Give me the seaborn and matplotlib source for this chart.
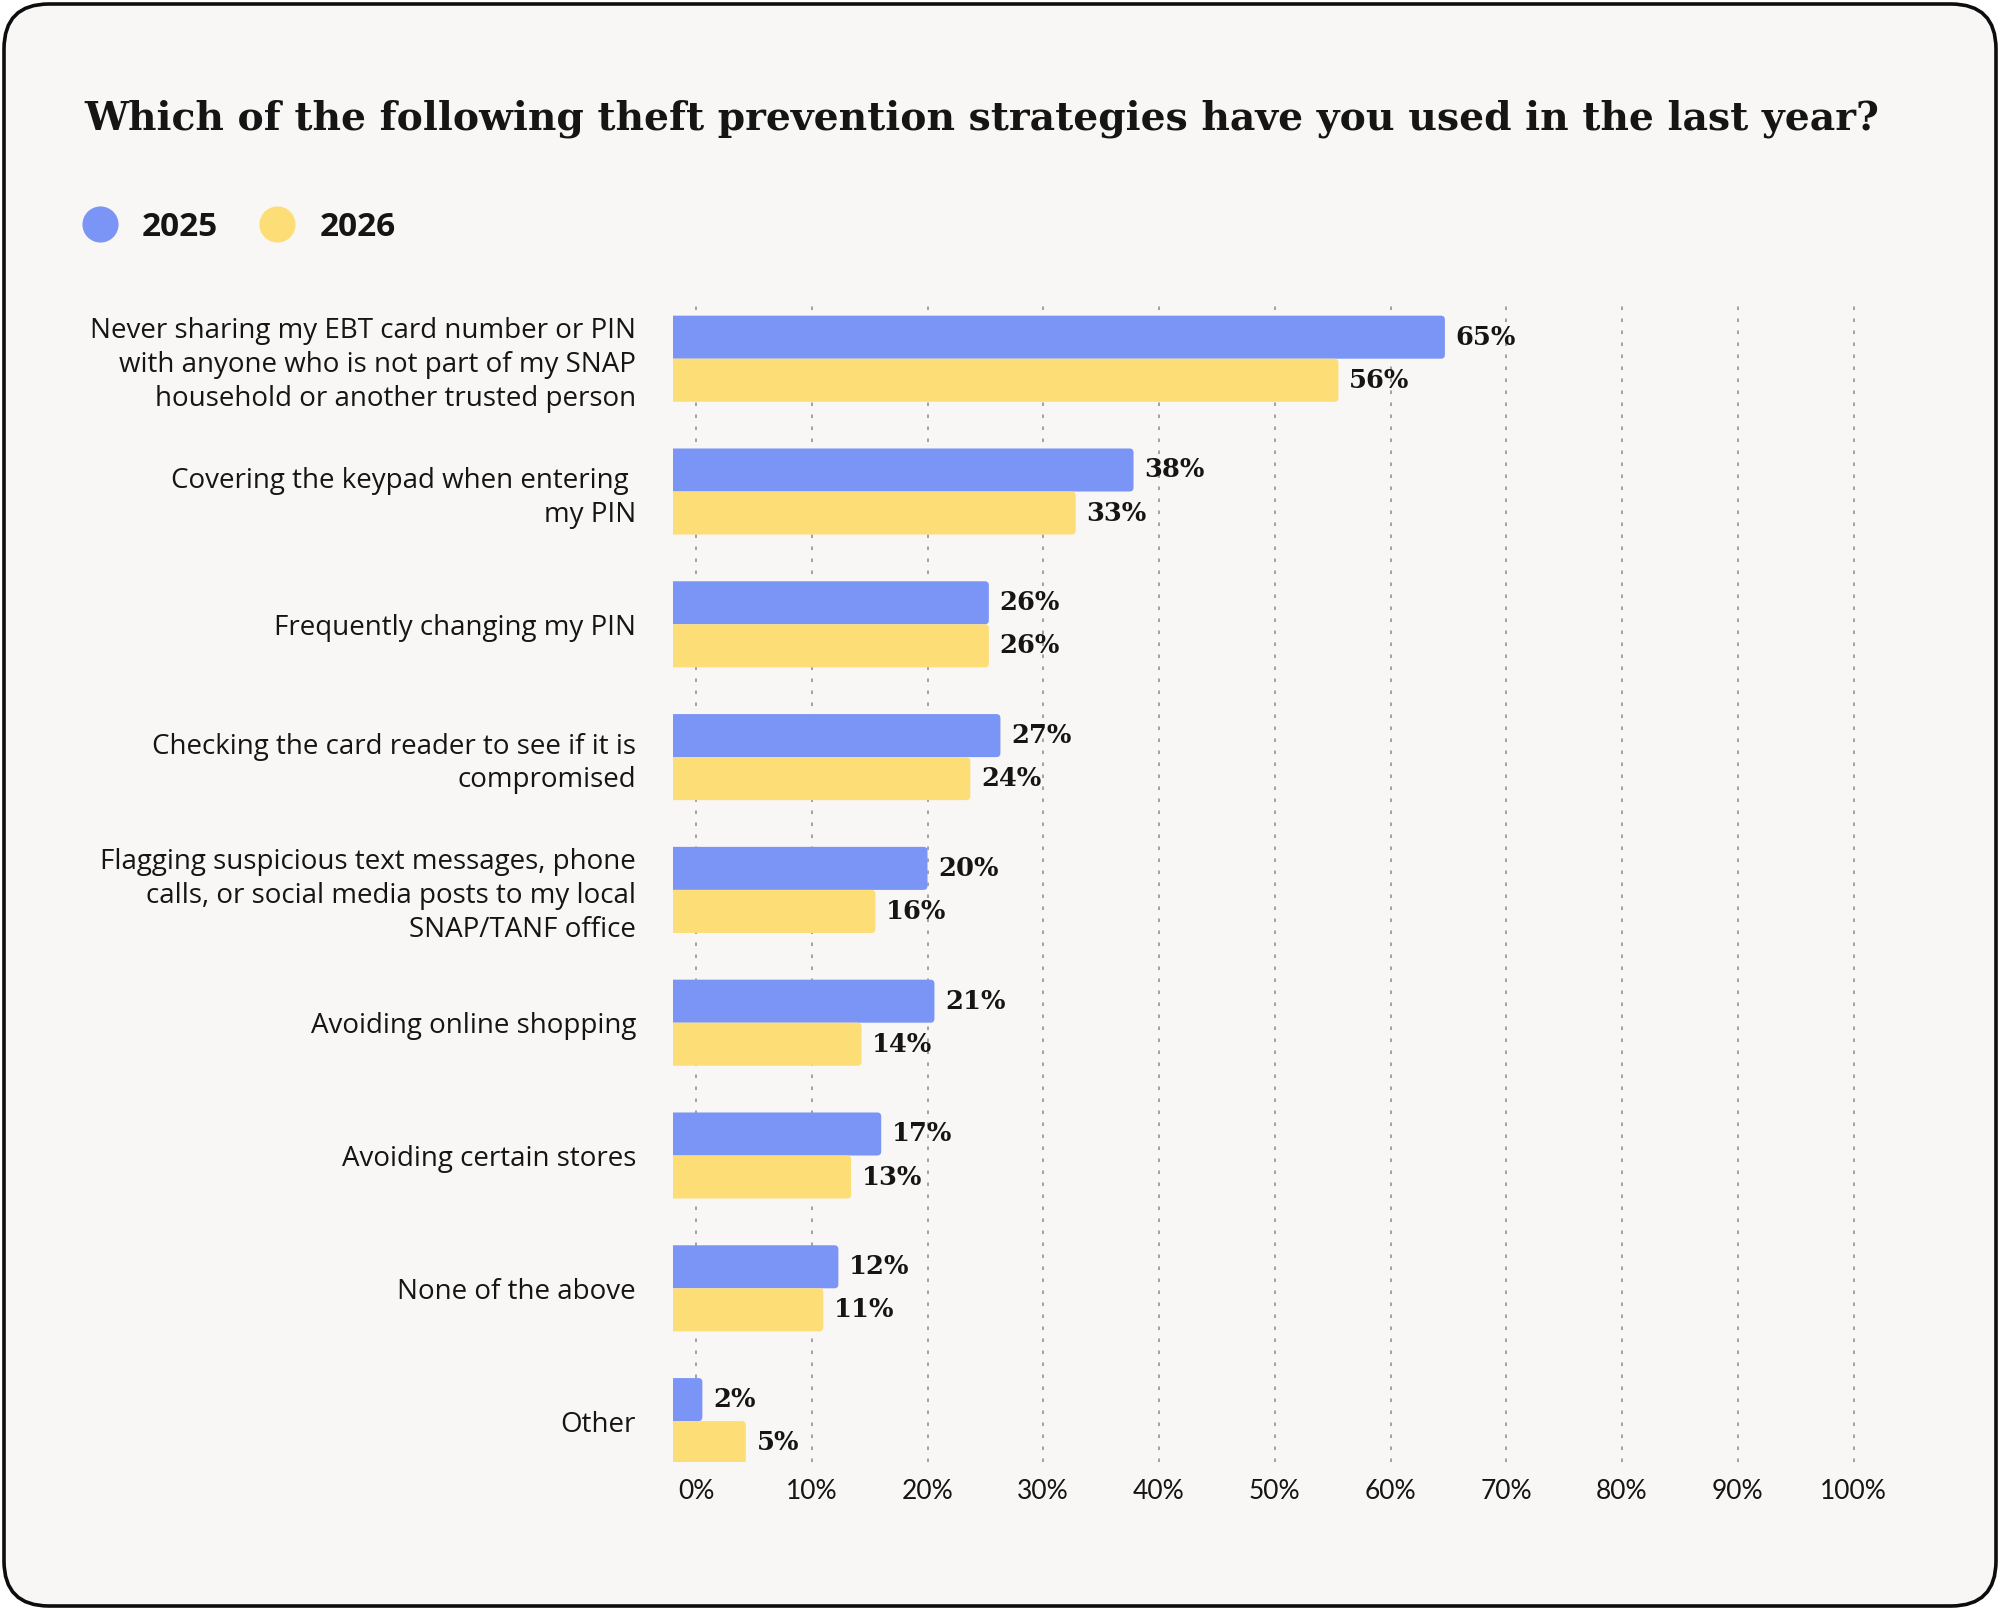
import matplotlib
matplotlib.use("Agg")
import matplotlib.pyplot as plt
import seaborn as sns
import pandas as pd
from matplotlib.patches import FancyBboxPatch
from matplotlib.lines import Line2D

# ---------------- data ----------------
title = "Which of the following theft prevention strategies have you used in the last year?"
categories = [
    "Never sharing my EBT card number or PIN\nwith anyone who is not part of my SNAP\nhousehold or another trusted person",
    "Covering the keypad when entering \nmy PIN",
    "Frequently changing my PIN",
    "Checking the card reader to see if it is\ncompromised",
    "Flagging suspicious text messages, phone\ncalls, or social media posts to my local\nSNAP/TANF office",
    "Avoiding online shopping",
    "Avoiding certain stores",
    "None of the above",
    "Other",
]
years = ["2025", "2026"]
values_2025 = [64.7, 37.8, 25.3, 26.3, 20.0, 20.6, 16.0, 12.3, 0.55]
values_2026 = [55.5, 32.8, 25.3, 23.7, 15.5, 14.3, 13.4, 11.0, 4.3]
labels_2025 = ["65%", "38%", "26%", "27%", "20%", "21%", "17%", "12%", "2%"]
labels_2026 = ["56%", "33%", "26%", "24%", "16%", "14%", "13%", "11%", "5%"]
xticks = [0, 10, 20, 30, 40, 50, 60, 70, 80, 90, 100]
xtick_labels = ["0%", "10%", "20%", "30%", "40%", "50%", "60%", "70%", "80%", "90%", "100%"]

# ---------------- style ----------------
BLUE = "#7A95F6"
YELLOW = "#FDDD75"
BG = "#F8F7F5"
INK = "#151515"
GRID = "#A3A3A3"
SANS = ["Open Sans", "DejaVu Sans"]
TICKSANS = ["Lato", "DejaVu Sans"]

df = pd.DataFrame({
    "category": categories * 2,
    "year": [years[0]] * len(categories) + [years[1]] * len(categories),
    "value": values_2025 + values_2026,
})

sns.set_theme(style="white")
plt.rcParams["font.family"] = SANS

W, H = 2000, 1610
fig = plt.figure(figsize=(W / 100, H / 100), dpi=100, facecolor="white")

# rounded card background
card = FancyBboxPatch((4 / W, 4 / H), (W - 8) / W, (H - 8) / H,
                      boxstyle="round,pad=0,rounding_size=0.0225",
                      mutation_aspect=W / H, transform=fig.transFigure,
                      facecolor=BG, edgecolor="#0d0d0d", linewidth=2.6, zorder=-5)
fig.add_artist(card)

# axes geometry (pixels)
px_per_pct = 11.575
x_zero = 696.0
xmin, xmax = -2.0, 102.0
y0_center, y_step = 358.7, 132.8
ytop, ybot = -0.40, 8.31
ax_left = (x_zero + xmin * px_per_pct) / W
ax_width = (xmax - xmin) * px_per_pct / W
top_px = y0_center + ytop * y_step
bot_px = y0_center + ybot * y_step
ax = fig.add_axes([ax_left, 1 - bot_px / H, ax_width, (bot_px - top_px) / H])
ax.set_facecolor("none")

sns.barplot(data=df, y="category", x="value", hue="year", hue_order=years,
            order=categories, palette=[BLUE, YELLOW], saturation=1,
            width=0.648, orient="h", legend=False, ax=ax)

# value labels
for cont, labs in zip(ax.containers, [labels_2025, labels_2026]):
    ax.bar_label(cont, labels=labs, padding=7.7, fontsize=18.5,
                 fontfamily="DejaVu Serif", fontweight="bold", color=INK)

# replace bars by slightly rounded ones starting at the left edge
aspect = px_per_pct / y_step
for p in list(ax.patches):
    x0, yb, w, h = p.get_x(), p.get_y(), p.get_width(), p.get_height()
    fc = p.get_facecolor()
    p.set_visible(False)
    rb = FancyBboxPatch((x0 - 2.6, yb), w + 2.6, h,
                        boxstyle="round,pad=0,rounding_size=0.35",
                        mutation_aspect=aspect, facecolor=fc,
                        edgecolor="none", linewidth=0, zorder=2)
    ax.add_patch(rb)

ax.set_xlim(xmin, xmax)
ax.set_ylim(ybot, ytop)
ax.set_xticks(xticks)
ax.set_xticklabels(xtick_labels)
ax.set_xlabel("")
ax.set_ylabel("")
for s in ax.spines.values():
    s.set_visible(False)
ax.tick_params(axis="x", length=0, pad=12, labelsize=19, labelcolor=INK)
ax.tick_params(axis="y", length=0, pad=26.5, labelsize=20, labelcolor=INK)
for t in ax.get_xticklabels():
    t.set_fontfamily(TICKSANS)
for t in ax.get_yticklabels():
    t.set_linespacing(1.28)
ax.set_axisbelow(True)
ax.grid(axis="x", color=GRID, linewidth=1.44, linestyle=(0, (1.75, 4.25)))
ax.grid(axis="y", visible=False)

# title
fig.text(84 / W, 1 - 130 / H, title, fontfamily="DejaVu Serif", fontweight="bold",
         fontsize=28.3, color=INK, ha="left", va="baseline")

# legend
handles = [Line2D([], [], marker="o", linestyle="", markersize=26, color=c,
                  markeredgewidth=0) for c in (BLUE, YELLOW)]
fig.legend(handles=handles, labels=years, ncol=2, loc="center left",
           bbox_to_anchor=(80 / W, 1 - 227 / H), frameon=False,
           prop={"family": SANS, "weight": "bold", "size": 24},
           handlelength=1.2, handletextpad=0.66, columnspacing=1.17,
           borderpad=0, borderaxespad=0, labelcolor=INK)

fig.savefig("out.png", dpi=100, facecolor="white")
